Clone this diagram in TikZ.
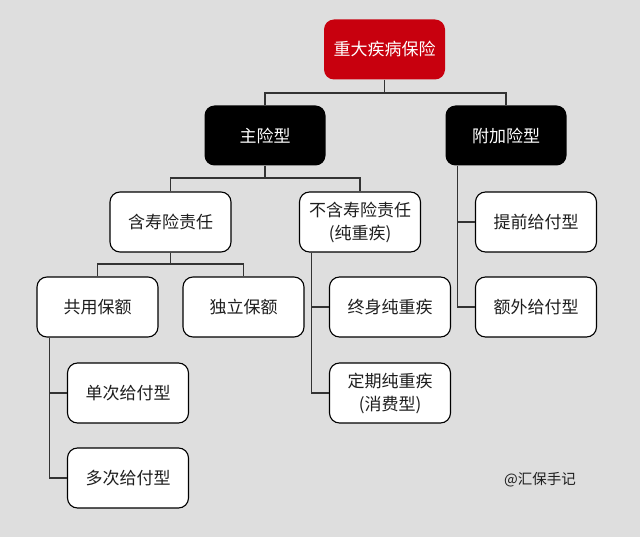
\documentclass[tikz,border=0pt]{standalone}
\usepackage{fontspec}
\setmainfont{Noto Sans CJK SC}
\definecolor{bg}{HTML}{DEDEDE}
\definecolor{rootred}{HTML}{C8000E}
\definecolor{txt}{HTML}{1E1E1E}
\definecolor{ln}{HTML}{333333}
\begin{document}
\begin{tikzpicture}[x=1pt,y=-1pt,
  box/.style={rounded corners=10pt, minimum width=121pt, minimum height=60pt, inner sep=0pt, align=center, font=\fontsize{17}{23}\selectfont},
  whitebox/.style={box, draw=black, line width=1.1pt, fill=white, text=txt},
  blackbox/.style={box, fill=black, text=white},
  redbox/.style={box, fill=rootred, text=white},
  conn/.style={draw=ln, line width=1.3pt}]
\fill[bg] (0,0) rectangle (640,537);
\useasboundingbox (0,0) rectangle (640,537);

\node[redbox] (root) at (384.5,49.5) {重大疾病保险};
\node[blackbox] (main) at (265,135.5) {主险型};
\node[blackbox] (fu) at (506,135.5) {附加险型};
\node[whitebox] (han) at (170.5,222) {含寿险责任};
\node[whitebox] (bu) at (360,222) {不含寿险责任\\(纯重疾)};
\node[whitebox] (gong) at (97.5,307) {共用保额};
\node[whitebox] (du) at (243.5,307) {独立保额};
\node[whitebox] (dan) at (128,393) {单次给付型};
\node[whitebox] (duo) at (128,478) {多次给付型};
\node[whitebox] (zs) at (390,307) {终身纯重疾};
\node[whitebox] (dq) at (390,393) {定期纯重疾\\(消费型)};
\node[whitebox] (tq) at (536,222) {提前给付型};
\node[whitebox] (ew) at (536,307) {额外给付型};
\node[text=txt, font=\fontsize{14.5}{16}\selectfont] (wm) at (540,480) {@汇保手记};

\coordinate (j1) at (0,93);
\coordinate (j2) at (0,178);
\coordinate (j3) at (0,264);
\coordinate (l1) at (49.3,0);
\coordinate (l2) at (311.7,0);
\coordinate (l3) at (457.7,0);

\draw[conn] (root.south) -- (root.south |- j1);
\draw[conn] (main.north) |- (fu.north |- j1) -- (fu.north);
\draw[conn] (main.south) -- (main.south |- j2);
\draw[conn] (han.north) |- (bu.north |- j2) -- (bu.north);
\draw[conn] (han.south) -- (han.south |- j3);
\draw[conn] (gong.north) |- (du.north |- j3) -- (du.north);
\draw[conn] (gong.south -| l1) |- (dan.west);
\draw[conn] (gong.south -| l1) |- (duo.west);
\draw[conn] (bu.south -| l2) |- (zs.west);
\draw[conn] (bu.south -| l2) |- (dq.west);
\draw[conn] (fu.south -| l3) |- (tq.west);
\draw[conn] (fu.south -| l3) |- (ew.west);
\end{tikzpicture}
\end{document}
